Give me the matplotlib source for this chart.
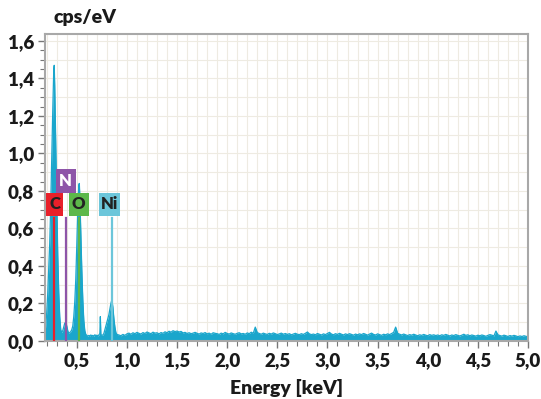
import numpy as np
import matplotlib
matplotlib.use("Agg")
import matplotlib.pyplot as plt
from matplotlib.patches import Rectangle
from matplotlib.ticker import MultipleLocator, FixedLocator, FixedFormatter

plt.rcParams['font.family'] = ['Lato', 'DejaVu Sans']

# ---------------- data ----------------
# peak region (keV, cps/eV)
peak_energy = [0.185, 0.19, 0.20, 0.21, 0.22, 0.23, 0.24, 0.25, 0.26, 0.27, 0.275,
               0.28, 0.29, 0.30, 0.31, 0.32, 0.33, 0.34, 0.35, 0.36, 0.37, 0.38,
               0.39, 0.40, 0.41, 0.42, 0.43, 0.44, 0.45, 0.46, 0.47, 0.48, 0.49,
               0.50, 0.51, 0.52, 0.525, 0.53, 0.54, 0.55, 0.56, 0.57, 0.58, 0.59,
               0.60, 0.61, 0.62, 0.63, 0.64, 0.65, 0.66, 0.67, 0.68, 0.69, 0.70,
               0.71, 0.72, 0.73, 0.735, 0.74, 0.75, 0.76, 0.77, 0.78, 0.79, 0.80,
               0.81, 0.82, 0.83, 0.84, 0.85, 0.86, 0.87, 0.88, 0.89, 0.90]
peak_counts = [0.05, 0.08, 0.15, 0.25, 0.38, 0.52, 0.72, 0.98, 1.22, 1.44, 1.47,
               1.36, 1.05, 0.74, 0.46, 0.26, 0.13, 0.06, 0.045, 0.055, 0.075, 0.095,
               0.10, 0.08, 0.055, 0.04, 0.045, 0.05, 0.06, 0.08, 0.13, 0.21, 0.33,
               0.51, 0.71, 0.83, 0.84, 0.78, 0.58, 0.38, 0.22, 0.11, 0.055, 0.035,
               0.03, 0.025, 0.03, 0.027, 0.032, 0.028, 0.03, 0.026, 0.033, 0.029, 0.031,
               0.027, 0.032, 0.04, 0.13, 0.035, 0.03, 0.032, 0.04, 0.06, 0.08, 0.10,
               0.12, 0.14, 0.17, 0.20, 0.22, 0.18, 0.12, 0.075, 0.045, 0.035]

# background region, 0.92 .. 5.00 keV in 0.02 keV channels
bg_start, bg_step = 0.92, 0.02
bg_counts = [
    0.032, 0.028, 0.035, 0.030, 0.038, 0.042, 0.036, 0.044, 0.039, 0.046,
    0.041, 0.037, 0.045, 0.040, 0.048, 0.043, 0.039, 0.047, 0.042, 0.044,
    0.038, 0.045, 0.041, 0.049, 0.044, 0.052, 0.047, 0.055, 0.050, 0.053,
    0.048, 0.051, 0.043, 0.046, 0.040, 0.044, 0.039, 0.042, 0.046, 0.041,
    0.037, 0.043, 0.040, 0.045, 0.038, 0.042, 0.036, 0.044, 0.041, 0.039,
    0.035, 0.042, 0.038, 0.046, 0.040, 0.037, 0.043, 0.039, 0.036, 0.041,
    0.044, 0.038, 0.040, 0.036, 0.043, 0.039, 0.047, 0.041, 0.074, 0.045,
    0.040, 0.036, 0.042, 0.038, 0.035, 0.041, 0.037, 0.043, 0.039, 0.034,
    0.038, 0.042, 0.036, 0.040, 0.035, 0.039, 0.033, 0.037, 0.041, 0.036,
    0.034, 0.039, 0.035, 0.041, 0.048, 0.038, 0.034, 0.037, 0.033, 0.040,
    0.036, 0.032, 0.038, 0.034, 0.040, 0.046, 0.037, 0.033, 0.039, 0.035,
    0.041, 0.036, 0.032, 0.038, 0.034, 0.039, 0.035, 0.031, 0.037, 0.033,
    0.038, 0.034, 0.040, 0.036, 0.031, 0.037, 0.042, 0.035, 0.032, 0.038,
    0.034, 0.030, 0.036, 0.033, 0.038, 0.034, 0.040, 0.046, 0.074, 0.041,
    0.036, 0.032, 0.037, 0.033, 0.029, 0.034, 0.031, 0.036, 0.032, 0.028,
    0.033, 0.030, 0.035, 0.031, 0.028, 0.034, 0.030, 0.033, 0.029, 0.032,
    0.028, 0.033, 0.030, 0.035, 0.031, 0.027, 0.032, 0.029, 0.034, 0.030,
    0.027, 0.031, 0.036, 0.030, 0.033, 0.028, 0.032, 0.029, 0.026, 0.031,
    0.028, 0.032, 0.029, 0.025, 0.030, 0.034, 0.031, 0.027, 0.053, 0.033,
    0.029, 0.026, 0.031, 0.028, 0.024, 0.029, 0.026, 0.030, 0.027, 0.023,
    0.027, 0.024, 0.028, 0.025, 0.022]

elements = ['C', 'N', 'O', 'Ni']
element_energy = [0.277, 0.392, 0.525, 0.851]
element_colors = ['#e8202a', '#8e55a8', '#5cb84a', '#6cc6da']
element_text_colors = ['#222222', '#ffffff', '#222222', '#222222']

x_tick_values = [0.5, 1.0, 1.5, 2.0, 2.5, 3.0, 3.5, 4.0, 4.5, 5.0]
x_tick_labels = ['0,5', '1,0', '1,5', '2,0', '2,5', '3,0', '3,5', '4,0', '4,5', '5,0']
y_tick_values = [0.0, 0.2, 0.4, 0.6, 0.8, 1.0, 1.2, 1.4, 1.6]
y_tick_labels = ['0,0', '0,2', '0,4', '0,6', '0,8', '1,0', '1,2', '1,4', '1,6']

# ---------------- layout ----------------
W, H = 541, 399
fig = plt.figure(figsize=(W / 100, H / 100), dpi=100)
L, R, T, B = 45, 528, 34, 341
ax = fig.add_axes([L / W, 1 - B / H, (R - L) / W, (B - T) / H])

bg_energy = bg_start + bg_step * np.arange(len(bg_counts))
energy = np.concatenate([peak_energy, bg_energy])
counts = np.concatenate([peak_counts, bg_counts])

spec_color = '#1aa6cc'
ax.fill_between(energy, 0, counts, color=spec_color, lw=0, zorder=2)
ax.plot(energy, counts, color=spec_color, lw=0.9, zorder=2)

# element marker lines
line_top = 0.655
for e, c in zip(element_energy, element_colors):
    ax.plot([e, e], [0, line_top], color=c, lw=1.6, zorder=3)

# label boxes: (x0, x1, y0, y1) in data units
box_pos = {'C': (0.192, 0.366, 0.667, 0.789),
           'N': (0.291, 0.490, 0.789, 0.917),
           'O': (0.420, 0.620, 0.667, 0.789),
           'Ni': (0.718, 0.935, 0.667, 0.789)}
for el, c, tc in zip(elements, element_colors, element_text_colors):
    x0, x1, y0, y1 = box_pos[el]
    ax.add_patch(Rectangle((x0, y0), x1 - x0, y1 - y0, facecolor=c,
                           edgecolor='none', zorder=4))
    ax.text((x0 + x1) / 2, (y0 + y1) / 2, el, color=tc, fontsize=12,
            fontweight='heavy', ha='center', va='center', zorder=5)

ax.set_xlim(0.183, 5.0)
ax.set_ylim(0, 1.637)

ax.xaxis.set_major_locator(FixedLocator(x_tick_values))
ax.xaxis.set_major_formatter(FixedFormatter(x_tick_labels))
ax.xaxis.set_minor_locator(MultipleLocator(0.1))
ax.yaxis.set_major_locator(FixedLocator(y_tick_values))
ax.yaxis.set_major_formatter(FixedFormatter(y_tick_labels))
ax.yaxis.set_minor_locator(MultipleLocator(0.05))

grid_c = '#eeebe2'
for gx in np.arange(0.2, 5.0, 0.1):
    ax.axvline(gx, color=grid_c, lw=0.8, zorder=0)
for gy in np.arange(0.1, 1.64, 0.1):
    ax.axhline(gy, color=grid_c, lw=0.8, zorder=0)

spine_c = '#a8a8a8'
for s in ax.spines.values():
    s.set_color(spine_c)
    s.set_linewidth(1.5)
ax.tick_params(axis='both', which='major', direction='out', length=5,
               width=1.0, color='#777777', labelsize=13.5, pad=3)
ax.tick_params(axis='both', which='minor', direction='out', length=3.5,
               width=0.8, color='#777777')
for lab in ax.get_xticklabels() + ax.get_yticklabels():
    lab.set_fontweight('heavy')
    lab.set_color('#1a1a1a')

fig.text(53 / W, 1 - 17 / H, 'cps/eV', fontsize=14, fontweight='heavy',
         ha='left', va='center', color='#1a1a1a')
fig.text((L + R) / 2 / W, 1 - 388 / H, 'Energy [keV]', fontsize=14,
         fontweight='heavy', ha='center', va='center', color='#1a1a1a')

fig.savefig('out.png', dpi=100)
